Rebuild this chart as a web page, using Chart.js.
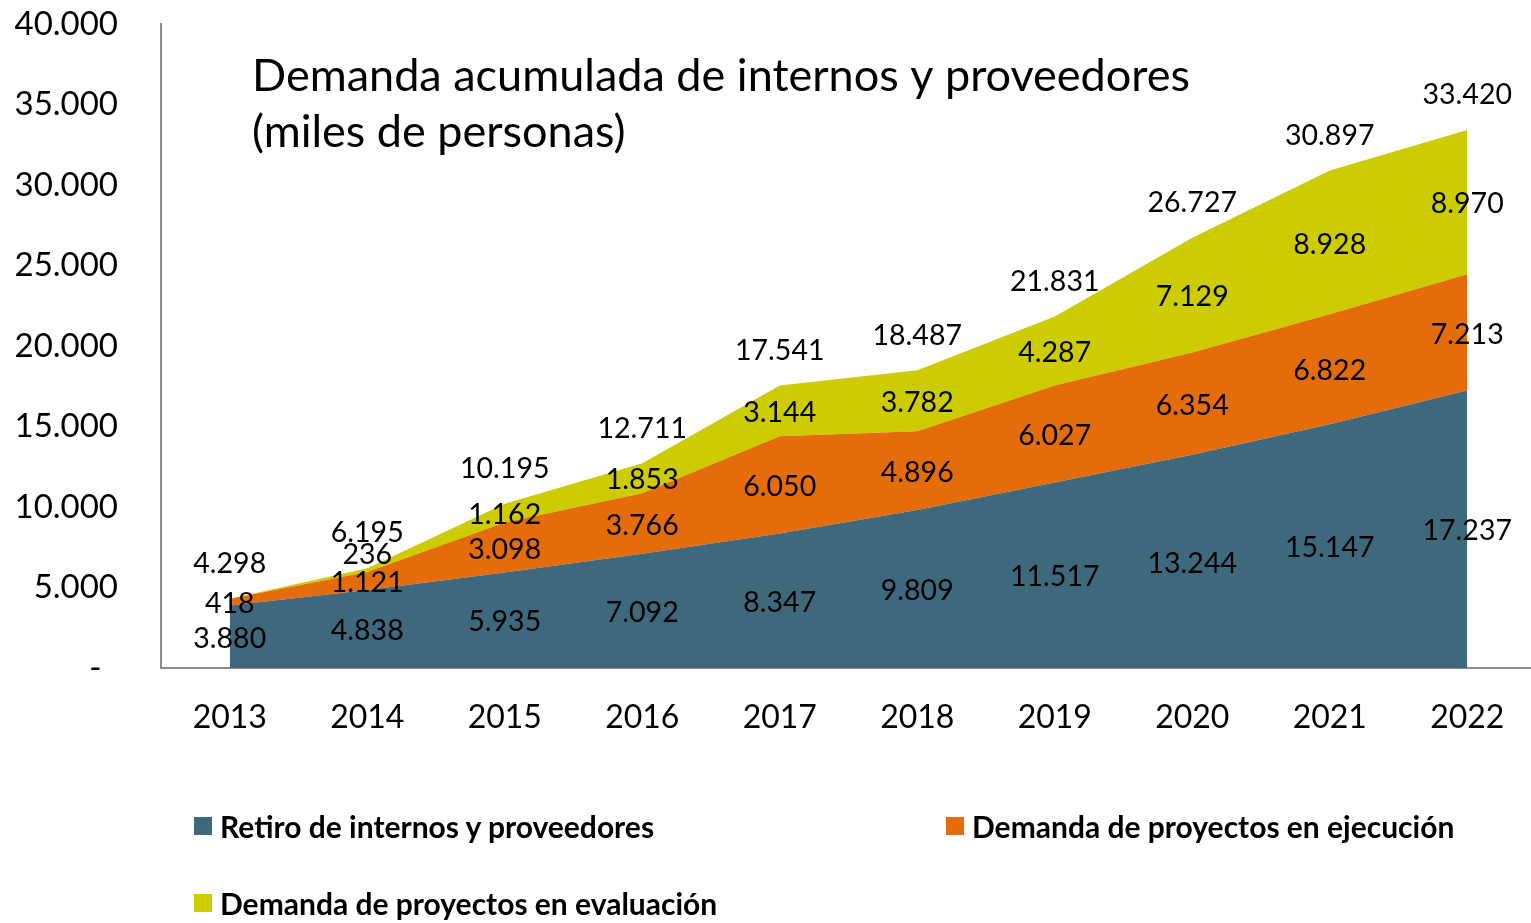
<!DOCTYPE html>
<html>
<head>
<meta charset="utf-8">
<script src="https://cdn.jsdelivr.net/npm/chart.js@4.4.1/dist/chart.umd.min.js"></script>
<style>
    html, body { margin: 0; padding: 0; background: #fff; overflow: hidden; }
    #wrap { position: relative; width: 1531px; height: 923px; overflow: hidden; }
    #areaChart { position: absolute; left: 0; top: 0; }
    .legend-item { position: absolute; display: flex; align-items: center; font-family: Lato, sans-serif; font-weight: bold; font-size: 30px; color: #000; white-space: nowrap; }
    .legend-box { width: 18px; height: 18px; margin-right: 8px; }
</style>
</head>
<body>
<div id="wrap">
    <canvas id="areaChart" width="1536" height="923"></canvas>
    <div id="legend"></div>
</div>
<script>
const years = ['2013', '2014', '2015', '2016', '2017', '2018', '2019', '2020', '2021', '2022'];
const retiro = [3880, 4838, 5935, 7092, 8347, 9809, 11517, 13244, 15147, 17237];
const ejecucion = [418, 1121, 3098, 3766, 6050, 4896, 6027, 6354, 6822, 7213];
const evaluacion = [0, 236, 1162, 1853, 3144, 3782, 4287, 7129, 8928, 8970];
const seriesLabels = ['Retiro de internos y proveedores', 'Demanda de proyectos en ejecución', 'Demanda de proyectos en evaluación'];
const seriesColors = ['#3e697c', '#e46c0a', '#cccc00'];
const titleLines = ['Demanda acumulada de internos y proveedores', '(miles de personas)'];

function fmt(v) {
    return String(v).replace(/\B(?=(\d{3})+(?!\d))/g, '.');
}

// title inside the plot + value labels on each band and totals above
const labelsPlugin = {
    id: 'bandLabels',
    afterDatasetsDraw(chart) {
        const ctx = chart.ctx;
        const y = chart.scales.y;
        ctx.save();
        ctx.fillStyle = '#000';
        ctx.textBaseline = 'middle';

        ctx.font = '45px Lato, sans-serif';
        ctx.textAlign = 'left';
        ctx.fillText(titleLines[0], 252, 76);
        ctx.fillText(titleLines[1], 252, 132);

        ctx.font = '28.5px Lato, sans-serif';
        ctx.textAlign = 'center';
        years.forEach((yr, i) => {
            let base = 0;
            chart.data.datasets.forEach((ds, d) => {
                const v = ds.data[i];
                if (v > 0) {
                    const x = chart.getDatasetMeta(d).data[i].x;
                    let py = y.getPixelForValue(base + v / 2) + 2;
                    if (d === 2 && v < 500) py -= 17;
                    ctx.fillText(fmt(v), x, py);
                }
                base += v;
            });
            const x = chart.getDatasetMeta(0).data[i].x;
            ctx.fillText(fmt(base), x, y.getPixelForValue(base) - 35);
        });
        ctx.restore();
    }
};

const datasets = [retiro, ejecucion, evaluacion].map((data, d) => ({
    label: seriesLabels[d],
    data: data,
    backgroundColor: seriesColors[d],
    borderColor: seriesColors[d],
    borderWidth: 0,
    pointRadius: 0,
    fill: d === 0 ? 'origin' : '-1',
    tension: 0
}));

new Chart(document.getElementById('areaChart'), {
    type: 'line',
    data: { labels: years, datasets: datasets },
    options: {
        responsive: false,
        animation: false,
        layout: { padding: { top: 24, left: 0, right: 0, bottom: 0 } },
        plugins: {
            legend: { display: false },
            tooltip: { enabled: false }
        },
        scales: {
            x: {
                offset: true,
                grid: { display: false, drawTicks: false },
                border: { display: true, color: '#8c8c8c', width: 2 },
                ticks: {
                    color: '#000',
                    font: { family: 'Lato, sans-serif', size: 32 },
                    padding: 30,
                    maxRotation: 0
                },
                afterFit(scale) {
                    scale.height = 255;
                    scale.paddingLeft = 0;
                    scale.paddingRight = 0;
                }
            },
            y: {
                stacked: true,
                min: 0,
                max: 40000,
                grid: { display: false, drawTicks: false },
                border: { display: true, color: '#8c8c8c', width: 2 },
                ticks: {
                    stepSize: 5000,
                    color: '#000',
                    font: { family: 'Lato, sans-serif', size: 33 },
                    padding: 43,
                    callback: v => v === 0 ? '-\u2002' : fmt(v)
                },
                afterFit(scale) {
                    scale.width = 161;
                    scale.paddingTop = 0;
                    scale.paddingBottom = 0;
                }
            }
        }
    },
    plugins: [labelsPlugin]
});

// legend laid out like the original: two columns, two rows
const legendPos = [[194, 827], [946, 827], [194, 904]];
const legendEl = document.getElementById('legend');
seriesLabels.forEach((lbl, i) => {
    const item = document.createElement('div');
    item.className = 'legend-item';
    item.style.left = legendPos[i][0] + 'px';
    item.style.top = (legendPos[i][1] - 19) + 'px';
    item.innerHTML = '<span class="legend-box" style="background:' + seriesColors[i] + '"></span>' + lbl;
    legendEl.appendChild(item);
});
</script>
</body>
</html>
